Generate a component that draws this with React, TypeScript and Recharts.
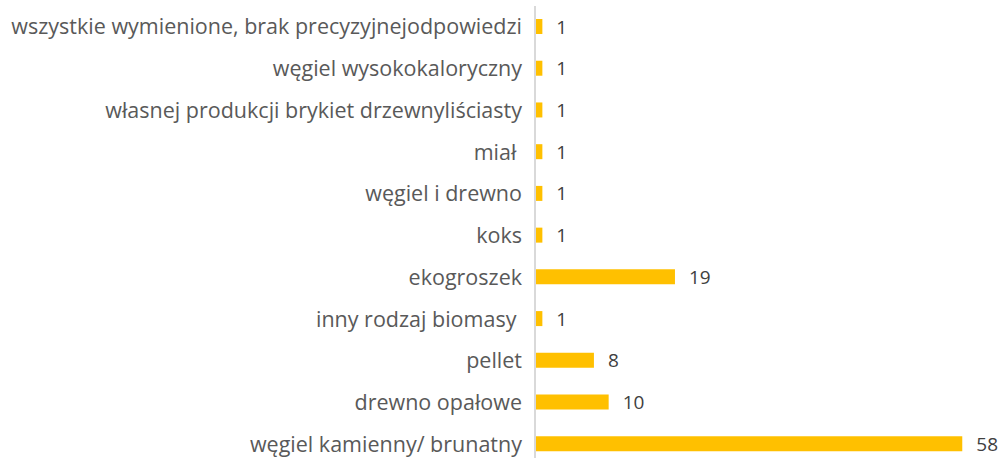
import React from 'react';
import { BarChart, Bar, XAxis, YAxis, LabelList } from 'recharts';

const categories = [
  'wszystkie wymienione, brak precyzyjnejodpowiedzi',
  'węgiel wysokokaloryczny',
  'własnej produkcji brykiet drzewnyliściasty',
  'miał\u00a0',
  'węgiel i drewno',
  'koks',
  'ekogroszek',
  'inny rodzaj biomasy\u00a0',
  'pellet',
  'drewno opałowe',
  'węgiel kamienny/ brunatny',
];
const counts = [1, 1, 1, 1, 1, 1, 19, 1, 8, 10, 58];

const data = categories.map((name, i) => ({ name, value: counts[i] }));

const FONT = '"Open Sans", sans-serif';

const ValueLabel = (props: any) => {
  const { x, y, width, height, value } = props;
  return (
    <text
      x={Number(x) + Number(width) + 14}
      y={Number(y) + Number(height) / 2}
      dominantBaseline="central"
      fill="#404040"
      fontSize={19}
      fontFamily={FONT}
    >
      {value}
    </text>
  );
};

const App: React.FC = () => {
  return (
    <div style={{ position: 'absolute', left: 0, top: 0, background: '#fff' }}>
      <BarChart
        width={1006}
        height={470}
        data={data}
        layout="vertical"
        margin={{ top: 6, right: 29, left: 0, bottom: 5 }}
        barCategoryGap={0}
      >
        <XAxis type="number" domain={[0, 60]} hide />
        <YAxis
          type="category"
          dataKey="name"
          width={535}
          tickLine={false}
          tickSize={0}
          tickMargin={13}
          axisLine={{ stroke: '#d9d9d9', strokeWidth: 2 }}
          tick={{ fill: '#595959', fontSize: 21.5, fontFamily: FONT }}
          interval={0}
        />
        <Bar dataKey="value" fill="#ffc000" barSize={15} isAnimationActive={false}>
          <LabelList dataKey="value" content={ValueLabel} />
        </Bar>
      </BarChart>
    </div>
  );
};

export default App;
